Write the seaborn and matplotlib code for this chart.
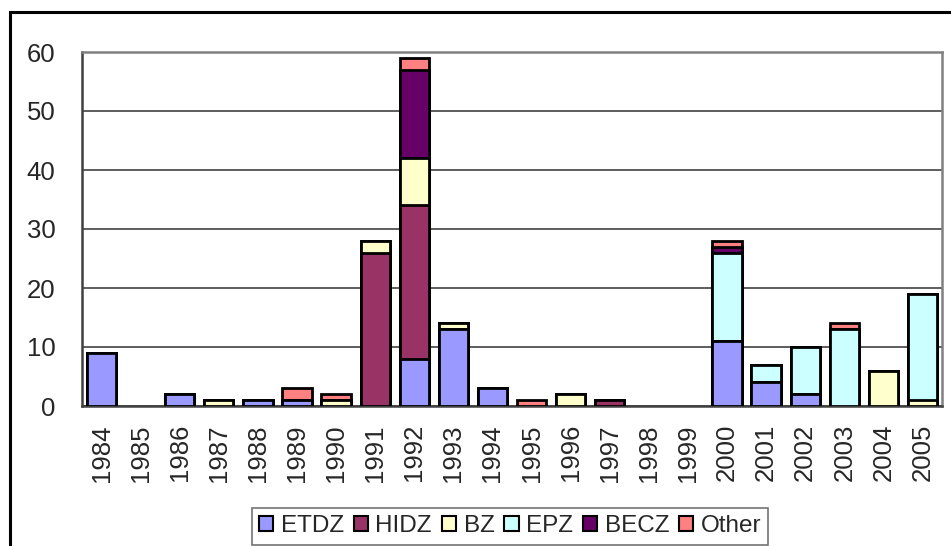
import numpy as np
import pandas as pd
import matplotlib
matplotlib.use("Agg")
import matplotlib.pyplot as plt
from matplotlib.patches import Patch, Rectangle
import seaborn as sns

years = ["1984", "1985", "1986", "1987", "1988", "1989", "1990", "1991", "1992", "1993", "1994",
         "1995", "1996", "1997", "1998", "1999", "2000", "2001", "2002", "2003", "2004", "2005"]
series_names = ["ETDZ", "HIDZ", "BZ", "EPZ", "BECZ", "Other"]
etdz  = [9, 0, 2, 0, 1, 1, 0, 0, 8, 13, 3, 0, 0, 0, 0, 0, 11, 4, 2, 0, 0, 0]
hidz  = [0, 0, 0, 0, 0, 0, 0, 26, 26, 0, 0, 0, 0, 1, 0, 0, 0, 0, 0, 0, 0, 0]
bz    = [0, 0, 0, 1, 0, 0, 1, 2, 8, 1, 0, 0, 2, 0, 0, 0, 0, 0, 0, 0, 6, 1]
epz   = [0, 0, 0, 0, 0, 0, 0, 0, 0, 0, 0, 0, 0, 0, 0, 0, 15, 3, 8, 13, 0, 18]
becz  = [0, 0, 0, 0, 0, 0, 0, 0, 15, 0, 0, 0, 0, 0, 0, 0, 1, 0, 0, 0, 0, 0]
other = [0, 0, 0, 0, 0, 2, 1, 0, 2, 0, 0, 1, 0, 0, 0, 0, 1, 0, 0, 1, 0, 0]
colors = ["#9999FF", "#993366", "#FFFFCC", "#CCFFFF", "#660066", "#FF8080"]

series = [etdz, hidz, bz, epz, becz, other]

sns.set_style("white")
plt.rcParams["font.family"] = ["Liberation Sans", "DejaVu Sans"]

fig = plt.figure(figsize=(9.51, 5.46), dpi=100)
ax = fig.add_axes([82/951, 1-406/546, (942-82)/951, (406-52)/546])

cum = np.cumsum(np.array(series, dtype=float), axis=0)
for i in range(len(series) - 1, -1, -1):
    vals = cum[i].copy()
    vals[vals == 0] = np.nan
    df = pd.DataFrame({"year": years, "value": vals})
    sns.barplot(data=df, x="year", y="value", order=years, color=colors[i],
                saturation=1, width=0.75, edgecolor="black", linewidth=2.0,
                errorbar=None, ax=ax, zorder=3)

ax.set_ylim(0, 60)
ax.set_xlim(-0.5, len(years) - 0.5)
ax.set_yticks(range(0, 61, 10))
ax.yaxis.grid(True, color="#505050", linewidth=1.3, zorder=0)
ax.set_axisbelow(True)
ax.set_xlabel("")
ax.set_ylabel("")
ax.tick_params(axis="y", length=0, labelsize=18.5, pad=19)
ax.tick_params(axis="x", length=0, labelsize=18.5, rotation=90, pad=13)
ax.set_xticks(np.arange(-0.5, len(years), 1.0), minor=True)
ax.tick_params(axis="x", which="minor", direction="in", length=6, color="#888888", width=1.3)

for s in ["top", "right"]:
    ax.spines[s].set_color("#808080")
    ax.spines[s].set_linewidth(1.8)
for s in ["left", "bottom"]:
    ax.spines[s].set_color("#404040")
    ax.spines[s].set_linewidth(1.8)
    ax.spines[s].set_visible(True)

# chart frame
fig.patches.append(Rectangle((10/951, -0.1), 1.2, 1 - 12/546 + 0.1, transform=fig.transFigure,
                             fill=False, edgecolor="black", linewidth=2.2))

handles = [Patch(facecolor=c, edgecolor="black", linewidth=1.5) for c in colors]
leg = fig.legend(handles, series_names, loc="upper center", bbox_to_anchor=(510/951, 1 - 508/546),
                 ncol=6, fontsize=17.5, frameon=True, fancybox=False, edgecolor="#505050",
                 handlelength=0.6, handleheight=0.6, handletextpad=0.3, columnspacing=0.4,
                 borderpad=0.3, borderaxespad=0)
leg.get_frame().set_linewidth(1.2)

fig.savefig("out.png", dpi=100)
